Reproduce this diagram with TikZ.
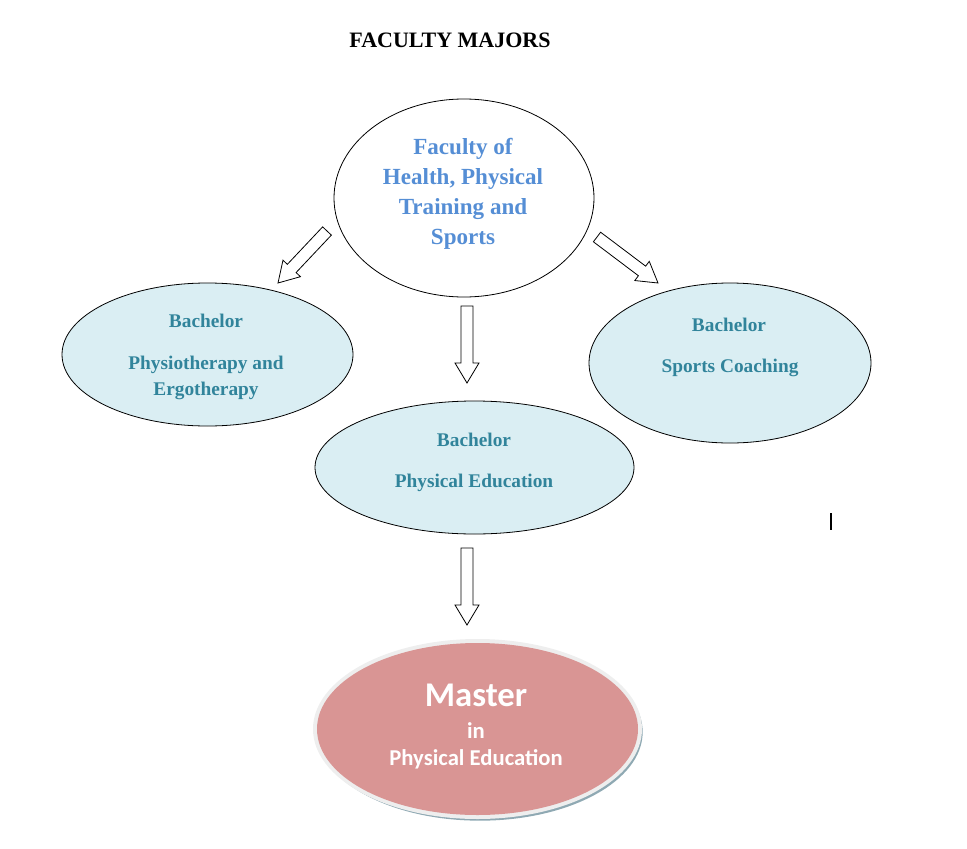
\documentclass[tikz,border=0pt]{standalone}
\usepackage{fontspec}
\setmainfont{Liberation Serif}
\newfontfamily\calfont{Carlito}
\usetikzlibrary{shapes.geometric,calc}
\definecolor{topblue}{HTML}{558ED5}
\definecolor{tealtxt}{HTML}{31849B}
\definecolor{lightfill}{HTML}{DAEEF3}
\definecolor{pinkfill}{HTML}{D99594}
\definecolor{shadowc}{HTML}{8FA9B3}
\definecolor{ringc}{HTML}{EEEEEE}
\tikzset{
  oval/.style={ellipse, draw=black, line width=0.6pt, inner sep=0pt},
  bachoval/.style={oval, fill=lightfill},
  tealtext/.style={text=tealtxt, font=\bfseries\fontsize{14.5}{17}\selectfont, anchor=mid, inner sep=0pt, yshift=-3pt},
  toptext/.style={text=topblue, font=\bfseries\fontsize{17.3}{20}\selectfont, anchor=mid, inner sep=0pt, yshift=-3.5pt},
  mastertext/.style={text=white, font=\calfont\bfseries\fontsize{17}{20}\selectfont, anchor=mid, inner sep=0pt, yshift=-3pt},
  blockarrow/.style={draw=black, fill=white, line width=0.6pt, line join=miter},
}
\newcommand\blockarr[2]{%
  \coordinate (#1-hb) at ($(#2)!15pt!(#1)$);
  \draw[blockarrow]
    ($(#1)!4.5pt!90:(#2)$) -- ($(#1-hb)!4.5pt!90:(#2)$) -- ($(#1-hb)!9pt!90:(#2)$)
    -- (#2) -- ($(#1-hb)!9pt!-90:(#2)$) -- ($(#1-hb)!4.5pt!-90:(#2)$)
    -- ($(#1)!4.5pt!-90:(#2)$) -- cycle;}
\begin{document}
\begin{tikzpicture}[x=0.75pt,y=-0.75pt]
\useasboundingbox (0,0) rectangle (967,849);
% title
\node[font=\bfseries\fontsize{16.5}{20}\selectfont, anchor=mid, inner sep=0pt, yshift=-3pt] (title) at (450,40) {FACULTY MAJORS};
% top ellipse
\node[oval, fill=white, minimum width=195pt, minimum height=148.5pt] (fac) at (464,198) {};
\node[toptext] (fac1) at (463,147) {Faculty of};
\node[toptext] (fac2) at (463,177) {Health, Physical};
\node[toptext] (fac3) at (463,207) {Training and};
\node[toptext] (fac4) at (463,237) {Sports};
% left ellipse
\node[bachoval, minimum width=218.25pt, minimum height=107.25pt] (physio) at (207.5,354.5) {};
\node[tealtext] (physio1) at (206,320) {Bachelor};
\node[tealtext] (physio2) at (206,362) {Physiotherapy and};
\node[tealtext] (physio3) at (206,388) {Ergotherapy};
% right ellipse
\node[bachoval, minimum width=211.5pt, minimum height=120pt] (coach) at (730,363) {};
\node[tealtext] (coach1) at (729,324) {Bachelor};
\node[tealtext] (coach2) at (730,365) {Sports Coaching};
% middle ellipse
\node[bachoval, minimum width=239.25pt, minimum height=99.75pt] (pe) at (474.5,467.5) {};
\node[tealtext] (pe1) at (474,439) {Bachelor};
\node[tealtext] (pe2) at (474,480) {Physical Education};
% master ellipse
\node[ellipse, fill=shadowc, inner sep=0pt, minimum width=244pt, minimum height=133pt] (mshadow) at (480,732) {};
\node[ellipse, fill=ringc, inner sep=0pt, minimum width=246.75pt, minimum height=135pt] (mring) at (477.5,729) {};
\node[ellipse, fill=pinkfill, inner sep=0pt, minimum width=240.75pt, minimum height=129pt] (master) at (477.5,729) {};
\node[mastertext, font=\calfont\bfseries\fontsize{26}{30}\selectfont, yshift=-1.5pt] (m1) at (476,697) {Master};
\node[mastertext] (m2) at (476,731) {in};
\node[mastertext] (m3) at (476,758) {Physical Education};
% block arrows
\coordinate (a1) at (327,231); \coordinate (a1t) at (278,283);
\coordinate (a2) at (597,237); \coordinate (a2t) at (658,283);
\coordinate (a3) at (467,306); \coordinate (a3t) at (467,383);
\coordinate (a4) at (467,548); \coordinate (a4t) at (467,625);
\blockarr{a1}{a1t}
\blockarr{a2}{a2t}
\blockarr{a3}{a3t}
\blockarr{a4}{a4t}
% cursor mark
\coordinate (bar1) at (831,513); \coordinate (bar2) at (831,530);
\draw[line width=1.4pt] (bar1) -- (bar2);
\end{tikzpicture}
\end{document}
